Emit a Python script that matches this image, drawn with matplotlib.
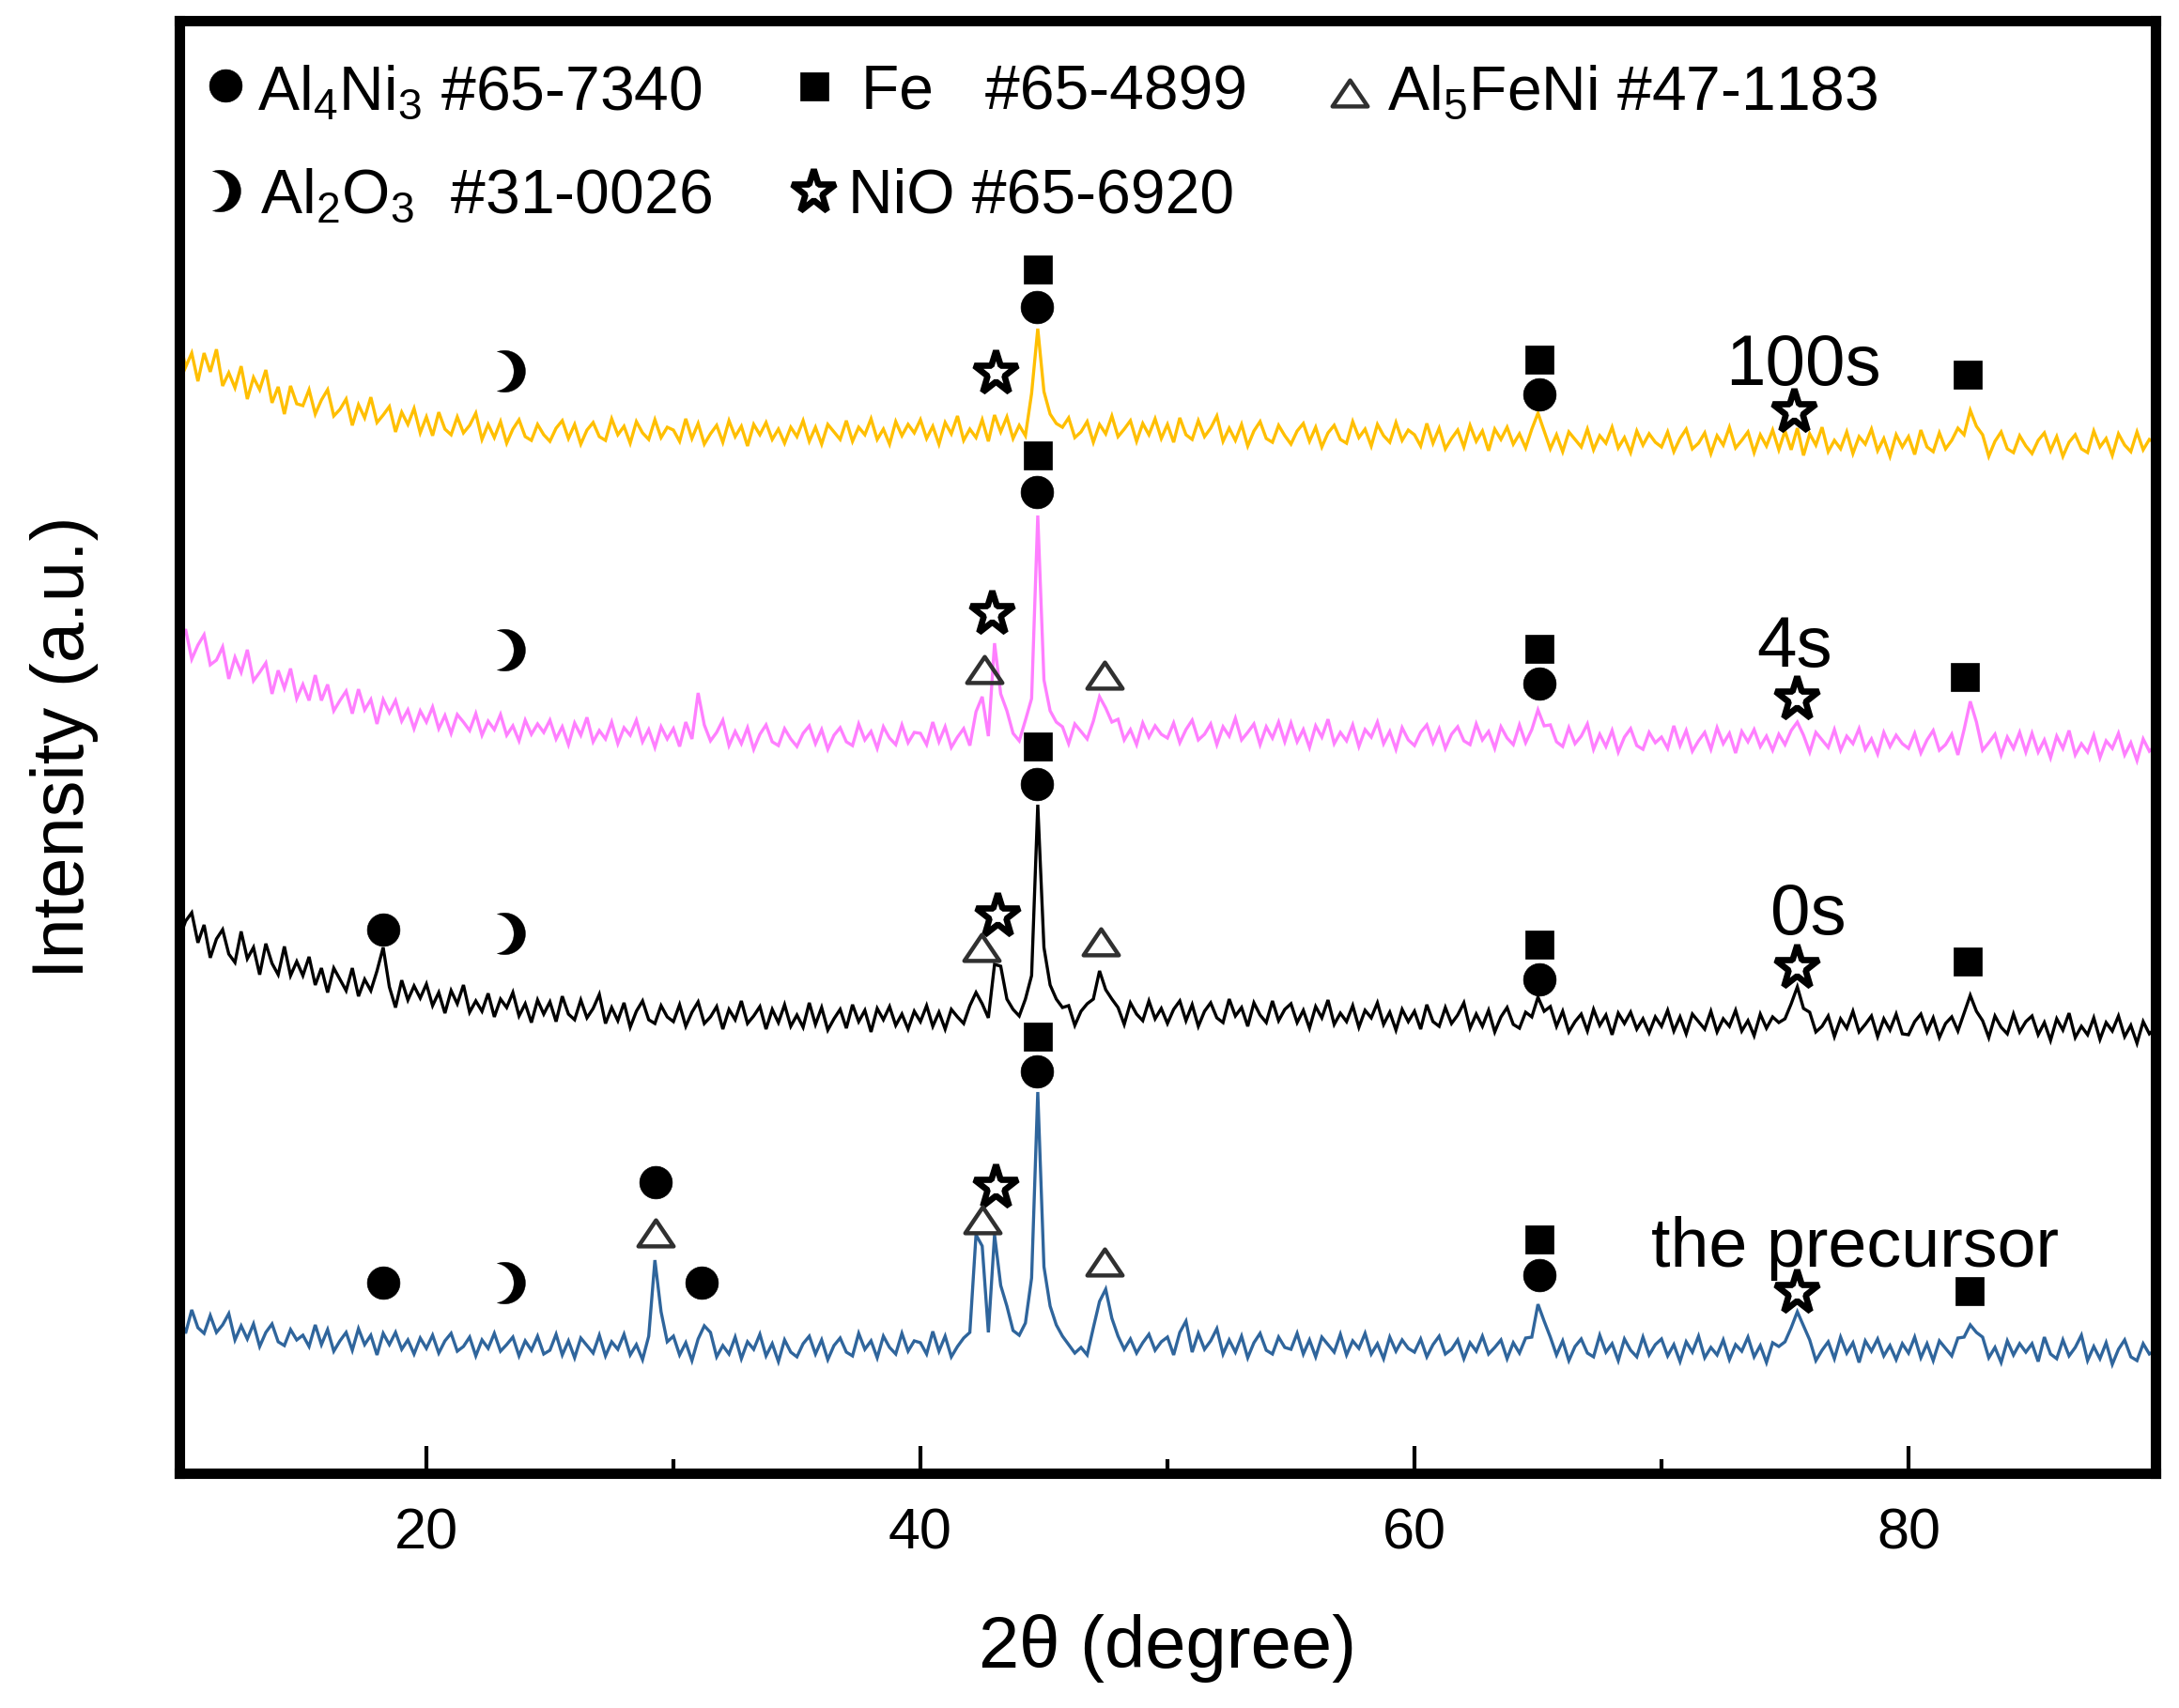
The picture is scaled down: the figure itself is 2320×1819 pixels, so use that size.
import numpy as np
import matplotlib
matplotlib.use("Agg")
import matplotlib.pyplot as plt
from matplotlib.path import Path

plt.rcParams['font.family'] = ['Liberation Sans', 'DejaVu Sans']
plt.rcParams['mathtext.fontset'] = 'custom'
plt.rcParams['mathtext.rm'] = 'Liberation Sans'
plt.rcParams['mathtext.it'] = 'Liberation Sans:italic'
plt.rcParams['mathtext.bf'] = 'Liberation Sans:bold'
plt.rcParams['mathtext.default'] = 'regular'

# ---------------- data ----------------
TWO_THETA_START = 10.0
TWO_THETA_STEP = 0.25

y_100s = [
    1209, 1178, 1193, 1163, 1193, 1173, 1197, 1158, 1172, 1156, 1179, 1144, 1167, 1154, 1175, 1140, 1157, 1128, 1158, 1139,
    1137, 1154, 1128, 1143, 1154, 1126, 1133, 1144, 1116, 1138, 1124, 1146, 1119, 1127, 1136, 1109, 1130, 1117, 1134, 1108,
    1125, 1105, 1130, 1112, 1106, 1125, 1108, 1116, 1129, 1101, 1117, 1103, 1120, 1097, 1112, 1122, 1104, 1100, 1117, 1106,
    1099, 1113, 1121, 1102, 1117, 1096, 1111, 1119, 1104, 1100, 1123, 1106, 1115, 1097, 1120, 1108, 1101, 1122, 1103, 1114,
    1111, 1099, 1123, 1102, 1118, 1096, 1107, 1116, 1098, 1121, 1104, 1115, 1094, 1117, 1106, 1119, 1101, 1112, 1097, 1114,
    1104, 1121, 1099, 1114, 1096, 1117, 1109, 1101, 1121, 1099, 1114, 1106, 1123, 1101, 1112, 1096, 1120, 1105, 1117, 1108,
    1122, 1102, 1115, 1096, 1119, 1107, 1126, 1100, 1112, 1103, 1122, 1099, 1127, 1109, 1125, 1102, 1116, 1105, 1150, 1219,
    1152, 1128, 1118, 1114, 1124, 1103, 1109, 1120, 1098, 1117, 1107, 1126, 1104, 1112, 1121, 1099, 1118, 1106, 1123, 1102,
    1117, 1098, 1124, 1106, 1101, 1121, 1104, 1113, 1126, 1099, 1113, 1100, 1117, 1094, 1110, 1120, 1102, 1098, 1116, 1105,
    1096, 1110, 1118, 1099, 1114, 1093, 1108, 1116, 1101, 1097, 1120, 1103, 1112, 1094, 1117, 1105, 1098, 1119, 1100, 1111,
    1106, 1094, 1118, 1097, 1113, 1091, 1102, 1111, 1093, 1116, 1099, 1110, 1089, 1112, 1101, 1114, 1096, 1107, 1092, 1112,
    1129, 1110, 1091, 1106, 1088, 1109, 1101, 1093, 1112, 1090, 1105, 1097, 1114, 1092, 1103, 1087, 1110, 1095, 1107, 1098,
    1093, 1109, 1088, 1102, 1112, 1091, 1097, 1108, 1086, 1105, 1095, 1114, 1092, 1100, 1109, 1087, 1106, 1094, 1111, 1090,
    1110, 1090, 1113, 1084, 1107, 1095, 1114, 1088, 1100, 1091, 1109, 1086, 1104, 1096, 1112, 1089, 1102, 1083, 1106, 1093,
    1104, 1085, 1111, 1093, 1088, 1108, 1091, 1100, 1113, 1106, 1132, 1115, 1106, 1083, 1099, 1109, 1091, 1087, 1105, 1094,
    1086, 1100, 1108, 1089, 1104, 1083, 1098, 1106, 1091, 1087, 1110, 1093, 1102, 1084, 1107, 1095, 1088, 1109, 1090, 1101,
    1097,
]

y_4s = [
    880, 899, 867, 882, 893, 861, 866, 880, 846, 869, 853, 877, 844, 853, 863, 830, 855, 836, 857, 825,
    840, 823, 850, 823, 840, 812, 823, 833, 809, 835, 813, 824, 798, 824, 810, 823, 801, 813, 793, 812,
    800, 816, 793, 807, 788, 808, 800, 791, 809, 786, 801, 792, 808, 786, 796, 780, 802, 787, 798, 789,
    802, 782, 795, 776, 799, 786, 805, 779, 791, 782, 800, 777, 794, 786, 802, 779, 792, 773, 795, 782,
    793, 774, 800, 782, 831, 797, 780, 789, 802, 775, 790, 777, 794, 771, 787, 797, 779, 775, 793, 782,
    774, 788, 796, 777, 792, 771, 786, 794, 779, 775, 798, 781, 790, 772, 795, 783, 776, 797, 778, 789,
    788, 776, 800, 779, 795, 773, 784, 793, 775, 811, 827, 785, 884, 830, 812, 788, 780, 802, 825, 1020,
    845, 812, 800, 795, 777, 798, 790, 782, 801, 827, 815, 800, 803, 781, 792, 776, 799, 784, 796, 787,
    783, 799, 778, 792, 802, 781, 787, 798, 776, 795, 785, 804, 781, 789, 798, 776, 795, 783, 800, 779,
    799, 779, 792, 773, 796, 784, 803, 777, 789, 780, 797, 774, 792, 784, 800, 777, 790, 771, 794, 781,
    775, 789, 797, 778, 793, 772, 787, 795, 780, 776, 798, 781, 790, 772, 795, 783, 776, 797, 778, 792,
    813, 796, 797, 779, 774, 794, 777, 785, 798, 771, 787, 774, 791, 768, 784, 793, 775, 771, 789, 778,
    784, 772, 796, 775, 791, 769, 780, 789, 771, 794, 777, 788, 767, 790, 779, 792, 774, 785, 770, 787,
    776, 791, 800, 786, 768, 789, 781, 773, 792, 770, 785, 777, 793, 771, 782, 766, 789, 774, 786, 777,
    772, 788, 767, 781, 791, 770, 776, 787, 765, 792, 822, 800, 770, 778, 787, 765, 784, 772, 789, 768,
    788, 768, 781, 762, 785, 772, 791, 765, 777, 768, 786, 762, 780, 772, 788, 765, 778, 759, 782, 769,
    775,
]

y_0s = [
    570, 588, 597, 565, 584, 549, 569, 579, 553, 544, 577, 548, 560, 531, 564, 543, 531, 561, 530, 545,
    530, 550, 520, 538, 512, 538, 526, 514, 538, 508, 526, 514, 535, 560, 518, 496, 525, 504, 519, 506,
    521, 498, 512, 490, 514, 500, 520, 491, 503, 492, 511, 486, 505, 496, 512, 487, 500, 480, 504, 489,
    502, 481, 508, 489, 483, 504, 485, 495, 510, 479, 496, 482, 501, 475, 492, 503, 483, 479, 498, 486,
    481, 499, 476, 491, 502, 479, 486, 497, 473, 494, 483, 503, 479, 487, 497, 473, 494, 480, 499, 476,
    488, 475, 501, 478, 496, 472, 484, 494, 474, 499, 481, 493, 470, 495, 483, 497, 477, 489, 473, 492,
    481, 498, 476, 491, 473, 494, 486, 479, 498, 512, 500, 485, 542, 540, 505, 494, 487, 505, 530, 712,
    560, 520, 505, 496, 498, 477, 492, 500, 505, 535, 515, 505, 496, 478, 501, 489, 482, 503, 484, 495,
    479, 494, 503, 482, 499, 476, 492, 501, 485, 480, 505, 487, 496, 476, 501, 488, 480, 503, 482, 494,
    500, 480, 493, 474, 497, 485, 504, 478, 490, 481, 498, 475, 493, 485, 501, 478, 491, 472, 494, 481,
    492, 473, 499, 481, 476, 496, 479, 488, 501, 474, 489, 476, 493, 470, 486, 496, 478, 474, 491, 486,
    507, 492, 497, 476, 492, 470, 481, 489, 471, 494, 477, 488, 467, 490, 479, 491, 473, 484, 469, 486,
    476, 493, 471, 486, 468, 489, 481, 473, 492, 470, 484, 476, 493, 471, 482, 466, 489, 474, 486, 480,
    484, 500, 518, 495, 491, 470, 476, 487, 465, 484, 474, 492, 470, 478, 487, 465, 484, 472, 489, 468,
    467, 481, 489, 470, 485, 464, 479, 486, 471, 490, 509, 492, 482, 464, 487, 475, 468, 489, 470, 481,
    487, 467, 480, 461, 484, 472, 490, 464, 476, 467, 485, 462, 480, 471, 487, 465, 477, 458, 481, 468,
    474,
]

y_precursor = [
    169, 149, 174, 155, 149, 168, 150, 158, 170, 142, 157, 143, 159, 135, 150, 159, 140, 136, 153, 142,
    147, 135, 158, 137, 153, 130, 141, 150, 131, 154, 137, 147, 126, 149, 137, 150, 132, 142, 127, 144,
    133, 147, 128, 141, 149, 130, 135, 145, 125, 142, 133, 149, 130, 137, 145, 125, 141, 131, 146, 127,
    131, 148, 126, 141, 123, 144, 136, 128, 147, 125, 140, 132, 148, 126, 137, 121, 146, 227, 172, 140,
    146, 126, 139, 120, 143, 157, 150, 124, 136, 127, 145, 122, 140, 132, 148, 125, 138, 119, 142, 129,
    124, 138, 146, 127, 142, 121, 136, 144, 129, 125, 149, 132, 141, 123, 146, 134, 127, 149, 130, 141,
    139, 127, 151, 130, 146, 124, 135, 144, 150, 254, 242, 150, 254, 200, 178, 152, 147, 160, 208, 406,
    220, 178, 158, 146, 137, 128, 134, 126, 155, 183, 196, 165, 146, 132, 143, 128, 139, 148, 131, 140,
    145, 126, 150, 162, 129, 149, 132, 141, 154, 127, 142, 129, 146, 123, 139, 149, 131, 127, 145, 134,
    132, 149, 127, 142, 124, 145, 137, 129, 148, 126, 141, 133, 149, 127, 138, 122, 145, 130, 142, 133,
    129, 143, 124, 137, 146, 127, 132, 142, 122, 139, 130, 146, 127, 134, 142, 122, 139, 128, 144, 145,
    180, 162, 145, 126, 141, 120, 135, 143, 128, 124, 147, 129, 138, 120, 143, 131, 124, 145, 126, 137,
    143, 125, 137, 119, 140, 129, 146, 123, 134, 126, 142, 121, 137, 130, 145, 124, 136, 118, 139, 135,
    140, 155, 172, 157, 142, 120, 131, 140, 122, 145, 128, 139, 118, 141, 130, 143, 125, 136, 121, 138,
    128, 145, 123, 138, 120, 141, 133, 125, 144, 145, 158, 150, 145, 123, 134, 118, 141, 126, 138, 129,
    138, 119, 145, 127, 122, 142, 125, 134, 147, 120, 135, 122, 139, 116, 132, 142, 124, 120, 138, 127,
    131,
]

trace_names = ['100s', '4s', '0s', 'the precursor']
trace_colors = ['#FFBF00', '#FF7FFF', '#000000', '#2F659C']
trace_values = [y_100s, y_4s, y_0s, y_precursor]

# trace label positions (2theta, height of baseline)
label_x = [75.74, 75.40, 75.93, 77.83]
label_y = [1159, 859, 574, 220]

# phase identification marks: (phase, 2theta, height)
marks_100s = [('Al2O3', 23.44, 1174), ('NiO', 43.05, 1172), ('Fe', 44.75, 1282), ('Al4Ni3', 44.72, 1242),
              ('Fe', 65.06, 1186), ('Al4Ni3', 65.06, 1149), ('NiO', 75.36, 1131), ('Fe', 82.40, 1170)]
marks_4s = [('Al2O3', 23.44, 877), ('NiO', 42.89, 916), ('Al5FeNi', 42.57, 856), ('Fe', 44.75, 1084),
            ('Al4Ni3', 44.72, 1045), ('Al5FeNi', 47.45, 850), ('Fe', 65.06, 878), ('Al4Ni3', 65.06, 841),
            ('NiO', 75.48, 825), ('Fe', 82.28, 848)]
marks_0s = [('Al4Ni3', 18.25, 579), ('Al2O3', 23.44, 575), ('NiO', 43.12, 594), ('Al5FeNi', 42.46, 560),
            ('Fe', 44.75, 774), ('Al4Ni3', 44.72, 734), ('Al5FeNi', 47.30, 566), ('Fe', 65.06, 563),
            ('Al4Ni3', 65.06, 526), ('NiO', 75.48, 539), ('Fe', 82.40, 545)]
marks_precursor = [('Al4Ni3', 18.25, 203), ('Al2O3', 23.44, 203), ('Al4Ni3', 29.28, 310), ('Al5FeNi', 29.28, 256),
                   ('Al4Ni3', 31.14, 203), ('NiO', 43.05, 305), ('Al5FeNi', 42.50, 270), ('Fe', 44.75, 465),
                   ('Al4Ni3', 44.72, 428), ('Al5FeNi', 47.45, 225), ('Fe', 65.06, 249), ('Al4Ni3', 65.06, 211),
                   ('NiO', 75.48, 193), ('Fe', 82.47, 194)]

legend_phases = ['Al4Ni3', 'Fe', 'Al5FeNi', 'Al2O3', 'NiO']
legend_labels = [r'Al$_4$Ni$_3$ #65-7340', r'Fe   #65-4899', r'Al$_5$FeNi #47-1183',
                 r'Al$_2$O$_3$  #31-0026', r'NiO #65-6920']

x_major_ticks = [20, 40, 60, 80]
x_minor_ticks = [30, 50, 70]

# ---------------- marker shapes ----------------
th_o = np.radians(np.linspace(110, -110, 60))
outer = np.column_stack([np.cos(th_o), np.sin(th_o)])
th_i = np.radians(np.linspace(-80.2, 80.2, 60))
inner = np.column_stack([-0.504 + 0.954 * np.cos(th_i), 0.954 * np.sin(th_i)])
moon_verts = np.vstack([outer, inner, outer[:1]])
moon_verts[:, 0] -= 0.329
moon_codes = [Path.MOVETO] + [Path.LINETO] * (len(moon_verts) - 2) + [Path.CLOSEPOLY]
moon_path = Path(moon_verts, moon_codes)

tri_path = Path([(-1, -0.74), (1, -0.74), (0, 0.74), (-1, -0.74)],
                [Path.MOVETO, Path.LINETO, Path.LINETO, Path.CLOSEPOLY])

phase_style = {
    'Al4Ni3': dict(marker='o', markersize=25, markerfacecolor='black', markeredgecolor='black', markeredgewidth=0.5),
    'Fe': dict(marker='s', markersize=22, markerfacecolor='black', markeredgecolor='black', markeredgewidth=0.5),
    'Al5FeNi': dict(marker=tri_path, markersize=27, markerfacecolor='none', markeredgecolor='#303030', markeredgewidth=3.2),
    'Al2O3': dict(marker=moon_path, markersize=32, markerfacecolor='black', markeredgecolor='black', markeredgewidth=0.3),
    'NiO': dict(marker='*', markersize=35, markerfacecolor='white', markeredgecolor='black', markeredgewidth=4.8),
}

# ---------------- figure ----------------
W, H = 2320, 1819
fig = plt.figure(figsize=(W / 100, H / 100), dpi=100)
ax = fig.add_axes([191 / W, 1 - 1569 / H, 2104 / W, 1547 / H])

for vals, col in zip(trace_values, trace_colors):
    x = TWO_THETA_START + TWO_THETA_STEP * np.arange(len(vals))
    ax.plot(x, vals, color=col, lw=2.4, zorder=2, solid_joinstyle='miter')

all_marks = [marks_100s, marks_4s, marks_0s, marks_precursor]
for marks in all_marks:
    for phase, mx, my in marks:
        ax.plot([mx], [my], linestyle='none', zorder=4, **phase_style[phase])

for name, lx, ly in zip(trace_names, label_x, label_y):
    ax.text(lx, ly, name, fontsize=55 if name != 'the precursor' else 53,
            ha='center', va='baseline', color='black', zorder=5)

# legend (manual layout, two rows)
legend_marker_pos = [(0.0233, 0.9555), (0.3213, 0.9550), (0.5922, 0.9505), (0.0238, 0.8830), (0.3208, 0.8825)]
legend_text_pos = [(0.0394, 0.9386), (0.3451, 0.9386), (0.6112, 0.9386), (0.0409, 0.8675), (0.3384, 0.8675)]
for ph, lab, (mx, my), (tx, ty) in zip(legend_phases, legend_labels, legend_marker_pos, legend_text_pos):
    ax.plot([mx], [my], linestyle='none', transform=ax.transAxes, clip_on=False, zorder=5, **phase_style[ph])
    ax.text(tx, ty, lab, fontsize=47.5, ha='left', va='baseline', transform=ax.transAxes, zorder=5)

ax.set_xlim(10, 90)
ax.set_ylim(0, 1547)
ax.set_xticks(x_major_ticks)
ax.set_xticks(x_minor_ticks, minor=True)
ax.set_xticklabels([str(t) for t in x_major_ticks])
ax.set_yticks([])
ax.tick_params(axis='x', which='major', direction='in', length=21, width=3, labelsize=44, pad=26, top=False)
ax.tick_params(axis='x', which='minor', direction='in', length=11, width=3, top=False)
for s in ax.spines.values():
    s.set_linewidth(8)
    s.set_color('black')

ax.set_xlabel('2θ (degree)', fontsize=56)
ax.xaxis.set_label_coords(0.5, -0.097)
ax.xaxis.label.set_va('top')
ax.set_ylabel('Intensity (a.u.)', fontsize=56)
ax.yaxis.set_label_coords(-0.041, 0.5)

fig.savefig('out.png', dpi=100, facecolor='white')
